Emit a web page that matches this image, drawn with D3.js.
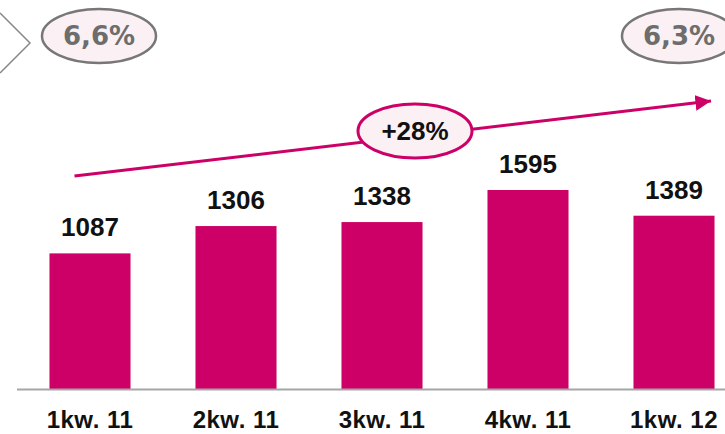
<!DOCTYPE html>
<html>
<head>
<meta charset="utf-8">
<script src="https://cdn.jsdelivr.net/npm/d3@7"></script>
<style>
  body { margin: 0; background: #fff; }
  svg { display: block; }
</style>
</head>
<body>
<div id="chart"></div>
<script>
const categories = ["1kw. 11", "2kw. 11", "3kw. 11", "4kw. 11", "1kw. 12"];
const values = [1087, 1306, 1338, 1595, 1389];
const shares = ["6,6%", "6,3%"];
const growthLabel = "+28%";

const width = 725;
const height = 434;
const pink = "#cc0066";
const font = "'Liberation Sans', Arial, sans-serif";

const svg = d3
  .select("#chart")
  .append("svg")
  .attr("width", width)
  .attr("height", height);

const x = d3
  .scaleBand()
  .domain(categories)
  .range([17, 747])
  .paddingInner(0.445)
  .paddingOuter(0.2225);

const y = d3.scaleLinear().domain([0, 3118]).range([389, 0]);

// bars
svg
  .append("g")
  .selectAll("rect")
  .data(values)
  .enter()
  .append("rect")
  .attr("x", (d, i) => x(categories[i]))
  .attr("y", d => y(d))
  .attr("width", x.bandwidth())
  .attr("height", d => y(0) - y(d))
  .attr("fill", pink);

// value labels
svg
  .append("g")
  .selectAll("text")
  .data(values)
  .enter()
  .append("text")
  .attr("x", (d, i) => x(categories[i]) + x.bandwidth() / 2)
  .attr("y", d => y(d) - 17)
  .attr("text-anchor", "middle")
  .style("font-family", font)
  .style("font-weight", "bold")
  .style("font-size", "26px")
  .style("fill", "#111")
  .text(d => d);

// baseline
svg
  .append("line")
  .attr("x1", 17)
  .attr("x2", width)
  .attr("y1", y(0) + 0.5)
  .attr("y2", y(0) + 0.5)
  .style("stroke", "#a6a6a6")
  .style("stroke-width", 2);

// category axis
const xAxis = svg
  .append("g")
  .attr("transform", `translate(0, ${y(0)})`)
  .call(d3.axisBottom(x).tickSize(0).tickPadding(22));
xAxis.select(".domain").remove();
xAxis
  .selectAll("text")
  .style("font-family", font)
  .style("font-weight", "bold")
  .style("font-size", "24px")
  .style("letter-spacing", "0.5px")
  .style("fill", "#111");

// growth arrow
svg
  .append("defs")
  .append("marker")
  .attr("id", "head")
  .attr("viewBox", "0 0 10 10")
  .attr("refX", 10)
  .attr("refY", 5)
  .attr("markerWidth", 5.2)
  .attr("markerHeight", 5.2)
  .attr("markerUnits", "strokeWidth")
  .attr("orient", "auto")
  .append("path")
  .attr("d", "M0,0 L10,5 L0,10 Z")
  .attr("fill", pink);

const arrowFrom = [x(categories[0]) + 25, y(1707)];
const arrowTo = [711, y(2308)];
svg
  .append("line")
  .attr("x1", arrowFrom[0])
  .attr("y1", arrowFrom[1])
  .attr("x2", arrowTo[0])
  .attr("y2", arrowTo[1])
  .style("stroke", pink)
  .style("stroke-width", 3)
  .attr("marker-end", "url(#head)");

const bubble = (cx, cy, label, stroke, sw, color, fontFamily, size) => {
  svg
    .append("ellipse")
    .attr("cx", cx)
    .attr("cy", cy)
    .attr("rx", 57)
    .attr("ry", 27)
    .style("fill", "#fbf0f3")
    .style("stroke", stroke)
    .style("stroke-width", sw);
  svg
    .append("text")
    .attr("x", cx)
    .attr("y", cy + 9)
    .attr("text-anchor", "middle")
    .style("font-family", fontFamily)
    .style("font-weight", "bold")
    .style("font-size", size)
    .style("fill", color)
    .text(label);
};

bubble(415, 131, growthLabel, pink, 3, "#111", font, "26px");
bubble(99, 36, shares[0], "#777", 2.5, "#6d6d6d", "'DejaVu Sans', sans-serif", "26px");
bubble(679, 36, shares[1], "#777", 2.5, "#6d6d6d", "'DejaVu Sans', sans-serif", "26px");

// chevron on the left edge
svg
  .append("path")
  .attr("d", "M0,13 L30,43 L0,73")
  .style("fill", "none")
  .style("stroke", "#888")
  .style("stroke-width", 1.5);
</script>
</body>
</html>
